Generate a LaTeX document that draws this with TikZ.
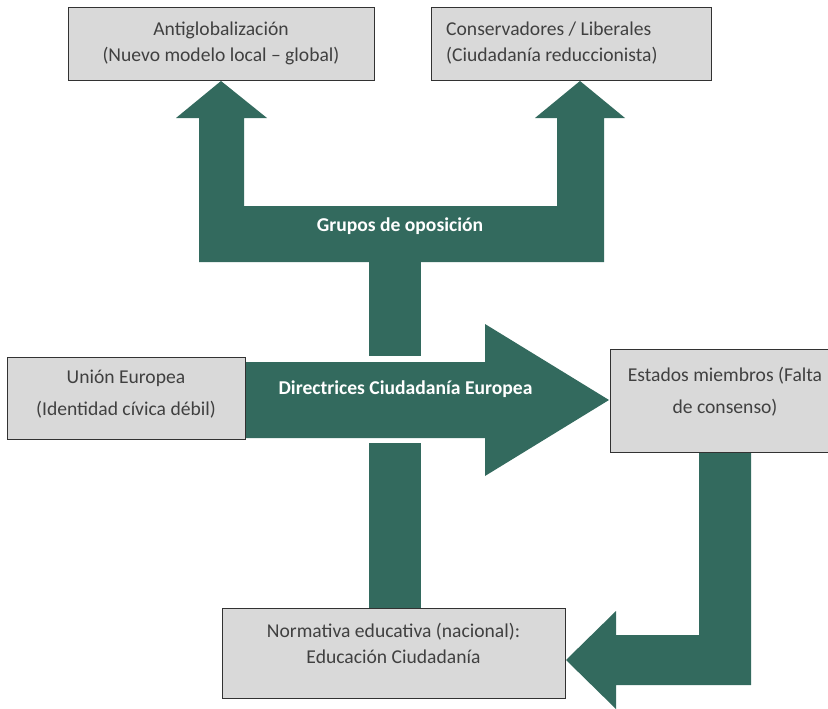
\documentclass[tikz,border=0pt]{standalone}
\usepackage{fontspec}
\setmainfont{Carlito}
\usepackage{tikz}
\definecolor{verde}{RGB}{51,106,94}
\definecolor{gris}{RGB}{217,217,217}
\definecolor{borde}{RGB}{50,50,50}
\definecolor{letra}{RGB}{64,64,64}
\tikzstyle{caja}=[rectangle, draw=borde, fill=gris, line width=1pt, inner sep=0pt]
\tikzstyle{flecha}=[fill=verde, draw=none]
\tikzstyle{texto}=[text=letra, align=center, inner sep=0pt, font={\fontsize{19.6}{26}\selectfont}]
\tikzstyle{textoverde}=[text=white, inner sep=0pt, font={\bfseries\fontsize{19.6}{26}\selectfont}]

\begin{document}
\begin{tikzpicture}[x=1pt, y=-1pt]
		   \useasboundingbox (0,0) rectangle (828,709);
		   \begin{scope}
			   % grupos de oposicion
			   \path[flecha] (199,262) -- (199,118) -- (176,118) -- (221,81) -- (267,118) -- (244,118) -- (244,206)
			     -- (557,206) -- (557,118) -- (535,118) -- (580,81) -- (625,118) -- (604,118) -- (604,262) -- cycle;
			   \path[flecha] (369,262) rectangle (421,356);
			   \path[flecha] (369,443) rectangle (421,609);
			   % directrices
			   \path[flecha] (245,362) -- (485,362) -- (485,324) -- (609,400) -- (485,476) -- (485,438) -- (245,438) -- cycle;
			   % estados -> normativa
			   \path[flecha] (699,452) -- (751,452) -- (751,685) -- (616,685) -- (616,709) -- (566,660)
			     -- (616,611) -- (616,635) -- (699,635) -- cycle;
		   \end{scope}
		   \begin{scope}
			   \node (anti) at (221,44.5)[caja, minimum width=306, minimum height=73] {};
			   \node (cons) at (571,44.5)[caja, minimum width=280, minimum height=73] {};
			   \node (ue) at (126,398)[caja, minimum width=238, minimum height=82] {};
			   \node (est) at (725,400.5)[caja, minimum width=230, minimum height=103] {};
			   \node (norm) at (393.5,653)[caja, minimum width=343, minimum height=90] {};

			   \node (antiT) at (221,43.5)[texto] {Antiglobalización\\(Nuevo modelo local – global)};
			   \node (consT) at (446,43.5)[texto, anchor=west, align=left] {Conservadores / Liberales\\(Ciudadanía reduccionista)};
			   \node (ueT) at (126,394)[texto] {Unión Europea\\[6pt](Identidad cívica débil)};
			   \node (estT) at (725,391.5)[texto] {Estados miembros (Falta\\[6pt]de consenso)};
			   \node (normT) at (393.5,643)[texto] {Normativa educativa (nacional):\\Educación Ciudadanía};

			   \node (grupos) at (400,226)[textoverde] {Grupos de oposición};
			   \node (direc) at (405.5,389)[textoverde] {Directrices Ciudadanía Europea};
		   \end{scope}
	   \end{tikzpicture}
\end{document}
